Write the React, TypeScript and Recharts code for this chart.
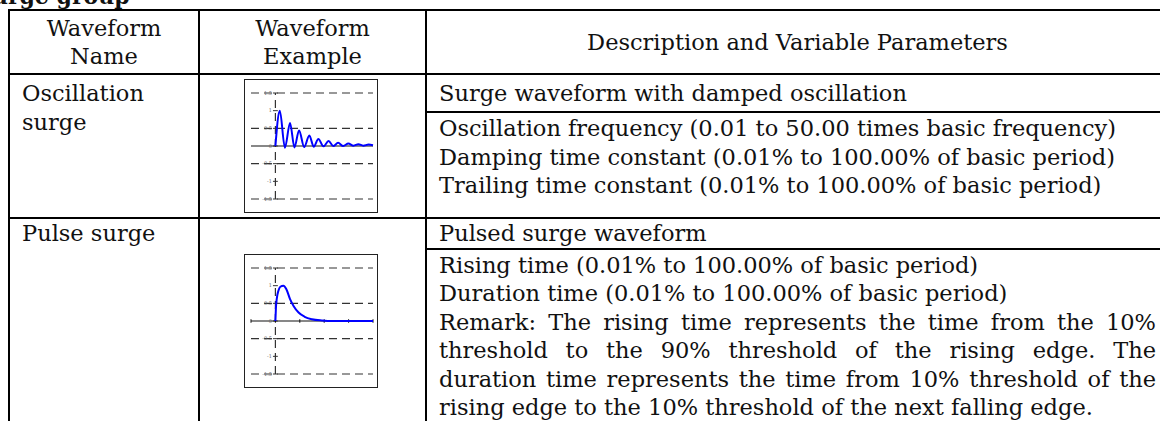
import { CartesianGrid, Line, LineChart, ReferenceLine, XAxis, YAxis } from "recharts";

// waveform samples (time in basic units, amplitude normalised)
const oscX = [0, 0.18, 0.39, 0.6, 0.78, 0.97, 1.18, 1.39, 1.57, 1.76, 1.97, 2.18, 2.37, 2.57, 2.78, 2.99, 3.2, 3.4, 3.6, 3.82, 4.0];
const oscY = [0, 1.0, -0.05, 0.65, -0.04, 0.44, -0.03, 0.3, -0.02, 0.2, -0.01, 0.14, 0.0, 0.09, 0.0, 0.07, 0.01, 0.05, 0.01, 0.04, 0.02];

const pulseX = [0, 0.02, 0.06, 0.12, 0.2, 0.33, 0.45, 0.6, 0.75, 0.95, 1.2, 1.5, 1.9, 2.4, 4];
const pulseY = [0, 0.35, 0.65, 0.85, 0.97, 1.0, 0.9, 0.62, 0.42, 0.24, 0.12, 0.05, 0.015, 0, 0];

const xTicks = [-1, 0, 1, 2, 3, 4];
const yTicks = [-1.5, -1, -0.5, 0, 0.5, 1, 1.5];
const yTickLabels = ["-1.5", "-1", "-0.5", "0", "0.5", "1", "1.5"];

const oscData = oscX.map((x, i) => ({ x, y: oscY[i] }));
const pulseData = pulseX.map((x, i) => ({ x, y: pulseY[i] }));

const FONT = '"DejaVu Serif", serif';
const LINE = "2px solid #000";

function Waveform({ data, xTickMarks }: { data: { x: number; y: number }[]; xTickMarks: boolean }) {
  return (
    <div style={{ width: 132, height: 132, border: "1px solid #222", background: "#fff" }}>
      <LineChart width={132} height={132} data={data} margin={{ top: 13, right: 4, bottom: 13, left: 6 }}>
        <XAxis type="number" dataKey="x" domain={[-1, 4]} ticks={xTicks} hide />
        <YAxis type="number" domain={[-1.5, 1.5]} ticks={yTicks} hide />
        <CartesianGrid vertical={false} horizontalValues={yTicks} stroke="#333" strokeWidth={1.2} strokeDasharray="8 5" />
        <ReferenceLine x={0} stroke="#333" strokeWidth={1.2} strokeDasharray="8 5" />
        <ReferenceLine y={0} stroke="#111" strokeWidth={1.2} />
        {yTicks.map((v, i) => (
          <ReferenceLine
            key={"yt" + v}
            segment={[{ x: -0.1, y: v }, { x: 0.1, y: v }]}
            stroke="#333"
            label={{ value: yTickLabels[i], position: "left", fontSize: 5, fill: "#666", offset: 1 }}
          />
        ))}
        {xTickMarks &&
          xTicks.map((t) => (
            <ReferenceLine key={"xt" + t} segment={[{ x: t, y: -0.05 }, { x: t, y: 0.05 }]} stroke="#111" />
          ))}
        <Line
          type="monotone"
          dataKey="y"
          stroke="#0000ff"
          strokeWidth={2}
          dot={false}
          isAnimationActive={false}
        />
      </LineChart>
    </div>
  );
}

const cell: React.CSSProperties = { border: LINE, padding: "0 12px", verticalAlign: "top", lineHeight: "28.5px" };

export default function App() {
  return (
    <div
      style={{
        position: "absolute",
        left: 0,
        top: 0,
        width: 1160,
        height: 421,
        overflow: "hidden",
        background: "#fff",
        fontFamily: FONT,
        fontSize: 22.5,
        color: "#111",
      }}
    >
      <div style={{ position: "absolute", left: -24, top: -17, fontWeight: "bold", fontSize: 22 }}>Surge group</div>
      <table
        style={{
          position: "absolute",
          left: 8,
          top: 9,
          borderCollapse: "collapse",
          tableLayout: "fixed",
          width: 1160,
        }}
      >
        <colgroup>
          <col style={{ width: 190 }} />
          <col style={{ width: 227 }} />
          <col style={{ width: 743 }} />
        </colgroup>
        <tbody>
          <tr style={{ height: 64 }}>
            <td style={{ ...cell, textAlign: "center", verticalAlign: "middle" }}>
              Waveform
              <br />
              Name
            </td>
            <td style={{ ...cell, textAlign: "center", verticalAlign: "middle" }}>
              Waveform
              <br />
              Example
            </td>
            <td style={{ ...cell, textAlign: "center", verticalAlign: "middle" }}>Description and Variable Parameters</td>
          </tr>
          <tr style={{ height: 38 }}>
            <td rowSpan={2} style={{ ...cell, paddingTop: 4 }}>
              Oscillation
              <br />
              surge
            </td>
            <td rowSpan={2} style={{ ...cell, padding: 0, verticalAlign: "middle" }}>
              <div style={{ marginLeft: 44 }}>
                <Waveform data={oscData} xTickMarks={false} />
              </div>
            </td>
            <td style={{ ...cell, verticalAlign: "middle" }}>Surge waveform with damped oscillation</td>
          </tr>
          <tr style={{ height: 106 }}>
            <td style={{ ...cell, paddingTop: 1 }}>
              Oscillation frequency (0.01 to 50.00 times basic frequency)
              <br />
              Damping time constant (0.01% to 100.00% of basic period)
              <br />
              Trailing time constant (0.01% to 100.00% of basic period)
            </td>
          </tr>
          <tr style={{ height: 30 }}>
            <td rowSpan={2} style={{ ...cell, paddingTop: 0 }}>
              Pulse surge
            </td>
            <td rowSpan={2} style={{ ...cell, padding: 0 }}>
              <div style={{ marginLeft: 44, marginTop: 35 }}>
                <Waveform data={pulseData} xTickMarks={true} />
              </div>
            </td>
            <td style={{ ...cell, verticalAlign: "middle" }}>Pulsed surge waveform</td>
          </tr>
          <tr style={{ height: 200 }}>
            <td style={{ ...cell, paddingTop: 1, textAlign: "justify" }}>
              Rising time (0.01% to 100.00% of basic period)
              <br />
              Duration time (0.01% to 100.00% of basic period)
              <br />
              Remark: The rising time represents the time from the 10% threshold to the 90% threshold of the rising
              edge. The duration time represents the time from 10% threshold of the rising edge to the 10% threshold of
              the next falling edge.
            </td>
          </tr>
        </tbody>
      </table>
    </div>
  );
}
